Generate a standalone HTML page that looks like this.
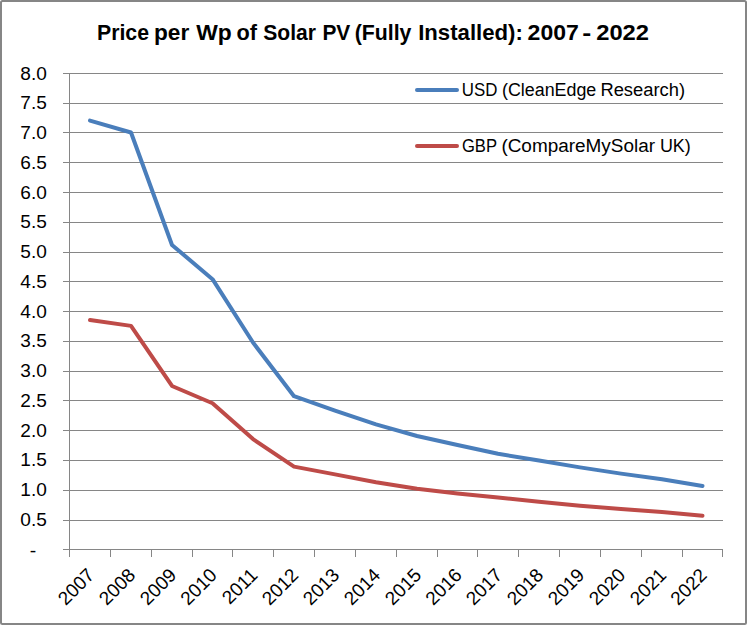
<!DOCTYPE html>
<html><head><meta charset="utf-8"><style>
html,body{margin:0;padding:0;background:#fff;}
body{width:747px;height:625px;overflow:hidden;position:relative;}
svg{position:absolute;left:0;top:0;display:block;}
text{font-family:"Liberation Sans",sans-serif;fill:#000;}
</style></head><body>
<svg width="747" height="625" viewBox="0 0 747 625">
<rect x="1" y="1" width="745" height="623" rx="1.5" fill="#fff" stroke="#868686" stroke-width="2"/>
<g font-size="22" font-weight="bold"><text x="97.00" y="40" textLength="52.00" lengthAdjust="spacingAndGlyphs">Price</text><text x="154.00" y="40" textLength="35.30" lengthAdjust="spacingAndGlyphs">per</text><text x="196.30" y="40" textLength="35.50" lengthAdjust="spacingAndGlyphs">Wp</text><text x="236.50" y="40" textLength="20.50" lengthAdjust="spacingAndGlyphs">of</text><text x="263.30" y="40" textLength="52.70" lengthAdjust="spacingAndGlyphs">Solar</text><text x="322.40" y="40" textLength="27.90" lengthAdjust="spacingAndGlyphs">PV</text><text x="354.70" y="40" textLength="56.70" lengthAdjust="spacingAndGlyphs">(Fully</text><text x="418.20" y="40" textLength="104.60" lengthAdjust="spacingAndGlyphs">Installed):</text><text x="527.60" y="40" textLength="51.20" lengthAdjust="spacingAndGlyphs">2007</text><text x="582.30" y="40" textLength="9.00" lengthAdjust="spacingAndGlyphs">-</text><text x="596.20" y="40" textLength="52.80" lengthAdjust="spacingAndGlyphs">2022</text></g>
<g stroke="#868686" stroke-width="1" fill="none" shape-rendering="crispEdges"><path d="M63 520.5H723"/><path d="M63 490.5H723"/><path d="M63 460.5H723"/><path d="M63 430.5H723"/><path d="M63 400.5H723"/><path d="M63 371.5H723"/><path d="M63 341.5H723"/><path d="M63 311.5H723"/><path d="M63 281.5H723"/><path d="M63 252.5H723"/><path d="M63 222.5H723"/><path d="M63 192.5H723"/><path d="M63 162.5H723"/><path d="M63 132.5H723"/><path d="M63 103.5H723"/><path d="M63 73.5H723"/>
<path d="M69.5 73V549"/><path d="M63 549.5H723"/><path d="M69.5 549V557"/><path d="M110.5 549V557"/><path d="M151.5 549V557"/><path d="M192.5 549V557"/><path d="M232.5 549V557"/><path d="M273.5 549V557"/><path d="M314.5 549V557"/><path d="M355.5 549V557"/><path d="M396.5 549V557"/><path d="M437.5 549V557"/><path d="M477.5 549V557"/><path d="M518.5 549V557"/><path d="M559.5 549V557"/><path d="M600.5 549V557"/><path d="M641.5 549V557"/><path d="M682.5 549V557"/><path d="M722.5 549V557"/>
</g>
<g font-size="18"><text x="46.8" y="525.75" text-anchor="end" textLength="26.5" lengthAdjust="spacingAndGlyphs">0.5</text><text x="46.8" y="496.00" text-anchor="end" textLength="26.5" lengthAdjust="spacingAndGlyphs">1.0</text><text x="46.8" y="466.25" text-anchor="end" textLength="26.5" lengthAdjust="spacingAndGlyphs">1.5</text><text x="46.8" y="436.50" text-anchor="end" textLength="26.5" lengthAdjust="spacingAndGlyphs">2.0</text><text x="46.8" y="406.75" text-anchor="end" textLength="26.5" lengthAdjust="spacingAndGlyphs">2.5</text><text x="46.8" y="377.00" text-anchor="end" textLength="26.5" lengthAdjust="spacingAndGlyphs">3.0</text><text x="46.8" y="347.25" text-anchor="end" textLength="26.5" lengthAdjust="spacingAndGlyphs">3.5</text><text x="46.8" y="317.50" text-anchor="end" textLength="26.5" lengthAdjust="spacingAndGlyphs">4.0</text><text x="46.8" y="287.75" text-anchor="end" textLength="26.5" lengthAdjust="spacingAndGlyphs">4.5</text><text x="46.8" y="258.00" text-anchor="end" textLength="26.5" lengthAdjust="spacingAndGlyphs">5.0</text><text x="46.8" y="228.25" text-anchor="end" textLength="26.5" lengthAdjust="spacingAndGlyphs">5.5</text><text x="46.8" y="198.50" text-anchor="end" textLength="26.5" lengthAdjust="spacingAndGlyphs">6.0</text><text x="46.8" y="168.75" text-anchor="end" textLength="26.5" lengthAdjust="spacingAndGlyphs">6.5</text><text x="46.8" y="139.00" text-anchor="end" textLength="26.5" lengthAdjust="spacingAndGlyphs">7.0</text><text x="46.8" y="109.25" text-anchor="end" textLength="26.5" lengthAdjust="spacingAndGlyphs">7.5</text><text x="46.8" y="79.50" text-anchor="end" textLength="26.5" lengthAdjust="spacingAndGlyphs">8.0</text><text x="36.3" y="556.5" text-anchor="end" textLength="6.5" lengthAdjust="spacingAndGlyphs">-</text></g>
<g font-size="19"><text transform="translate(95.60,576.3) rotate(-45)" text-anchor="end">2007</text><text transform="translate(136.60,576.3) rotate(-45)" text-anchor="end">2008</text><text transform="translate(177.60,576.3) rotate(-45)" text-anchor="end">2009</text><text transform="translate(218.10,576.3) rotate(-45)" text-anchor="end">2010</text><text transform="translate(258.60,576.3) rotate(-45)" text-anchor="end">2011</text><text transform="translate(299.60,576.3) rotate(-45)" text-anchor="end">2012</text><text transform="translate(340.60,576.3) rotate(-45)" text-anchor="end">2013</text><text transform="translate(381.60,576.3) rotate(-45)" text-anchor="end">2014</text><text transform="translate(422.60,576.3) rotate(-45)" text-anchor="end">2015</text><text transform="translate(463.10,576.3) rotate(-45)" text-anchor="end">2016</text><text transform="translate(503.60,576.3) rotate(-45)" text-anchor="end">2017</text><text transform="translate(544.60,576.3) rotate(-45)" text-anchor="end">2018</text><text transform="translate(585.60,576.3) rotate(-45)" text-anchor="end">2019</text><text transform="translate(626.60,576.3) rotate(-45)" text-anchor="end">2020</text><text transform="translate(667.60,576.3) rotate(-45)" text-anchor="end">2021</text><text transform="translate(708.10,576.3) rotate(-45)" text-anchor="end">2022</text></g>
<g fill="none" stroke-width="4" stroke-linecap="round" stroke-linejoin="round">
<polyline stroke="#4A7EBB" points="90.00,120.60 131.00,132.50 172.00,244.95 212.50,279.17 253.00,342.53 294.00,396.20 335.00,410.60 376.00,424.41 417.00,435.95 457.50,444.99 498.00,453.80 539.00,460.58 580.00,467.37 621.00,473.61 662.00,479.21 702.50,485.93"/>
<polyline stroke="#BE4B48" points="90.00,320.10 131.00,325.88 172.00,385.97 212.50,403.23 253.00,439.10 294.00,466.59 335.00,474.39 376.00,482.18 417.00,488.73 457.50,493.49 498.00,497.47 539.00,501.70 580.00,505.68 621.00,509.02 662.00,511.99 702.50,515.80"/>
<path stroke="#4A7EBB" d="M417 90H457"/>
<path stroke="#BE4B48" d="M417 146H457"/>
</g>
<g font-size="18"><text x="461.80" y="96" textLength="35.60" lengthAdjust="spacingAndGlyphs">USD</text><text x="502.00" y="96" textLength="94.30" lengthAdjust="spacingAndGlyphs">(CleanEdge</text><text x="600.40" y="96" textLength="84.60" lengthAdjust="spacingAndGlyphs">Research)</text><text x="461.90" y="152" textLength="35.10" lengthAdjust="spacingAndGlyphs">GBP</text><text x="501.40" y="152" textLength="153.60" lengthAdjust="spacingAndGlyphs">(CompareMySolar</text><text x="659.90" y="152" textLength="30.90" lengthAdjust="spacingAndGlyphs">UK)</text></g>
</svg>
</body></html>
